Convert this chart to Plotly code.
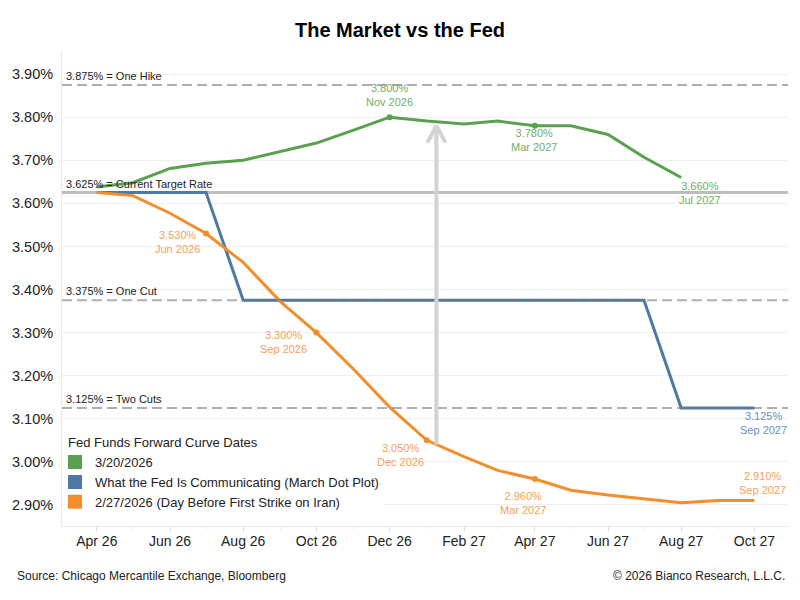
import plotly.graph_objects as go
import pandas as pd

# ---------------- data ----------------
months = ["2026-04-01", "2026-05-01", "2026-06-01", "2026-07-01", "2026-08-01",
          "2026-09-01", "2026-10-01", "2026-11-01", "2026-12-01", "2027-01-01",
          "2027-02-01", "2027-03-01", "2027-04-01", "2027-05-01", "2027-06-01",
          "2027-07-01", "2027-08-01", "2027-09-01", "2027-10-01"]

curve_0320 = [3.638, 3.648, 3.681, 3.693, 3.700, 3.720, 3.740, 3.770, 3.800,
              3.791, 3.784, 3.791, 3.780, 3.780, 3.760, 3.707, 3.660]

dot_plot = [3.625, 3.625, 3.625, 3.625, 3.375, 3.375, 3.375, 3.375, 3.375,
            3.375, 3.375, 3.375, 3.375, 3.375, 3.375, 3.375, 3.125, 3.125, 3.125]

curve_0227 = [3.625, 3.618, 3.577, 3.530, 3.463, 3.372, 3.300, 3.215, 3.127,
              3.050, 3.012, 2.980, 2.960, 2.934, 2.923, 2.914, 2.905, 2.910, 2.910]

series_names = ["3/20/2026",
                "What the Fed Is Communicating (March Dot Plot)",
                "2/27/2026 (Day Before First Strike on Iran)"]

ref_levels = [3.875, 3.625, 3.375, 3.125]
ref_labels = ["3.875% = One Hike", "3.625% = Current Target Rate",
              "3.375% = One Cut", "3.125% = Two Cuts"]

arrow_date = "2027-01-09"
arrow_from = 3.040
arrow_to = 3.778

# ---------------- style ----------------
FONT = "Liberation Sans, Arial, sans-serif"
GREEN, BLUE, ORANGE = "#59A14F", "#4E79A7", "#F28E2B"
GREEN_T, BLUE_T, ORANGE_T = "#72AE66", "#6A8FBF", "#F5A15A"

series = [(curve_0320, GREEN, GREEN_T), (dot_plot, BLUE, BLUE_T), (curve_0227, ORANGE, ORANGE_T)]

# labelled points: (series index, point index, xshift, yshift, marker)
labelled = [
    (0, 8, 0, 22, True),
    (0, 12, -1, -14.5, True),
    (0, 16, 19, -15, False),
    (2, 3, -29, -8.5, True),
    (2, 6, -33, -9.5, True),
    (2, 9, -26, -15, True),
    (2, 12, -12, -23.5, True),
    (2, 18, 8, 18, False),
    (1, 18, 9, -15.5, False),
]

fig = go.Figure()

for (vals, col, _), name in zip(series, series_names):
    fig.add_trace(go.Scatter(x=months[:len(vals)], y=vals, mode="lines",
                             line=dict(color=col, width=3), showlegend=False,
                             hoverinfo="skip"))

# markers on labelled points
for si, pi, _, _, mk in labelled:
    if mk:
        vals, col, _ = series[si]
        fig.add_trace(go.Scatter(x=[months[pi]], y=[vals[pi]], mode="markers",
                                 marker=dict(color=col, size=6), showlegend=False,
                                 hoverinfo="skip"))

# legend entries (square swatches)
for (vals, col, _), name in zip(series, series_names):
    fig.add_trace(go.Scatter(x=[None], y=[None], mode="markers", name=name,
                             marker=dict(color=col, size=14, symbol="square"),
                             showlegend=True))

shapes = []
annotations = []
for lvl, lab in zip(ref_levels, ref_labels):
    if lvl == 3.625:
        shapes.append(dict(type="line", xref="paper", x0=0, x1=1, yref="y", y0=lvl, y1=lvl,
                           line=dict(color="#BDBDBD", width=3), layer="below"))
    else:
        shapes.append(dict(type="line", xref="paper", x0=0, x1=1, yref="y", y0=lvl, y1=lvl,
                           line=dict(color="rgba(120,120,120,0.6)", width=2, dash="10px,5px"),
                           layer="above"))
    annotations.append(dict(xref="paper", x=0, xanchor="left", xshift=2, y=lvl, yref="y",
                            yanchor="bottom", yshift=1, text=lab, showarrow=False,
                            font=dict(family=FONT, size=11, color="#222")))

# arrow
shapes.append(dict(type="line", xref="x", yref="y", x0=arrow_date, x1=arrow_date,
                   y0=arrow_from, y1=arrow_to, line=dict(color="#D3D3D3", width=4), layer="above"))
for dx in (-9, 9):
    shapes.append(dict(type="line", xref="x", yref="y", xsizemode="pixel", ysizemode="pixel",
                       xanchor=arrow_date, yanchor=arrow_to, x0=0, y0=1, x1=dx, y1=-16,
                       line=dict(color="#D3D3D3", width=4), layer="above"))

# data labels
for si, pi, xs, ys, _ in labelled:
    vals, _, tcol = series[si]
    lbl = (pd.Timestamp(months[pi]) - pd.Timedelta(days=1)).strftime("%b %Y")
    annotations.append(dict(x=months[pi], y=vals[pi], xref="x", yref="y",
                            text=f"{vals[pi]:.3f}%<br>{lbl}", showarrow=False,
                            xshift=xs, yshift=ys, font=dict(family=FONT, size=11, color=tcol)))

# footer
annotations.append(dict(xref="paper", yref="paper", x=-0.0647, y=-0.105, xanchor="left",
                        yanchor="middle", text="Source: Chicago Mercantile Exchange, Bloomberg",
                        showarrow=False, font=dict(family=FONT, size=12, color="#222")))
annotations.append(dict(xref="paper", yref="paper", x=0.9986, y=-0.105, xanchor="right",
                        yanchor="middle", text="© 2026 Bianco Research, L.L.C.",
                        showarrow=False, font=dict(family=FONT, size=12, color="#222")))

fig.update_layout(
    width=800, height=600,
    margin=dict(l=62, r=12, t=50, b=74),
    paper_bgcolor="white", plot_bgcolor="white",
    font=dict(family=FONT, color="#222"),
    title=dict(text="<b>The Market vs the Fed</b>", x=0.5, xanchor="center",
               y=0.95, yanchor="middle", font=dict(family=FONT, size=20, color="black")),
    shapes=shapes, annotations=annotations,
    legend=dict(x=4 / 726, y=0.195 + 3 / 476, xanchor="left", yanchor="top", bgcolor="white",
                title=dict(text="Fed Funds Forward Curve Dates", font=dict(size=13, color="#222")),
                font=dict(family=FONT, size=13, color="#222"), itemsizing="trace",
                tracegroupgap=0, indentation=-11),
    xaxis=dict(type="date", range=["2026-03-03", "2027-10-29"], tick0="2026-04-01",
               dtick="M2", tickformat="%b %y", ticks="outside", ticklen=5, tickcolor="#DDDDDD",
               minor=dict(dtick="M1", ticks="outside", ticklen=3, tickcolor="#EEEEEE"),
               showgrid=False, showline=True, linecolor="#E8E8E8", zeroline=False,
               ticklabelstandoff=-3,
               tickfont=dict(family=FONT, size=14, color="#222")),
    yaxis=dict(range=[2.851, 3.956], tick0=2.9, dtick=0.1, tickformat=".2f", ticksuffix="%",
               showgrid=True, gridcolor="#EFEFEF", showline=True, linecolor="#E8E8E8",
               zeroline=False, ticks="", ticklabelstandoff=5,
               tickfont=dict(family=FONT, size=14.5, color="#222")),
)

fig.write_html("out.html", config={"displayModeBar": False},
               post_script="document.body.style.margin='0px';")
